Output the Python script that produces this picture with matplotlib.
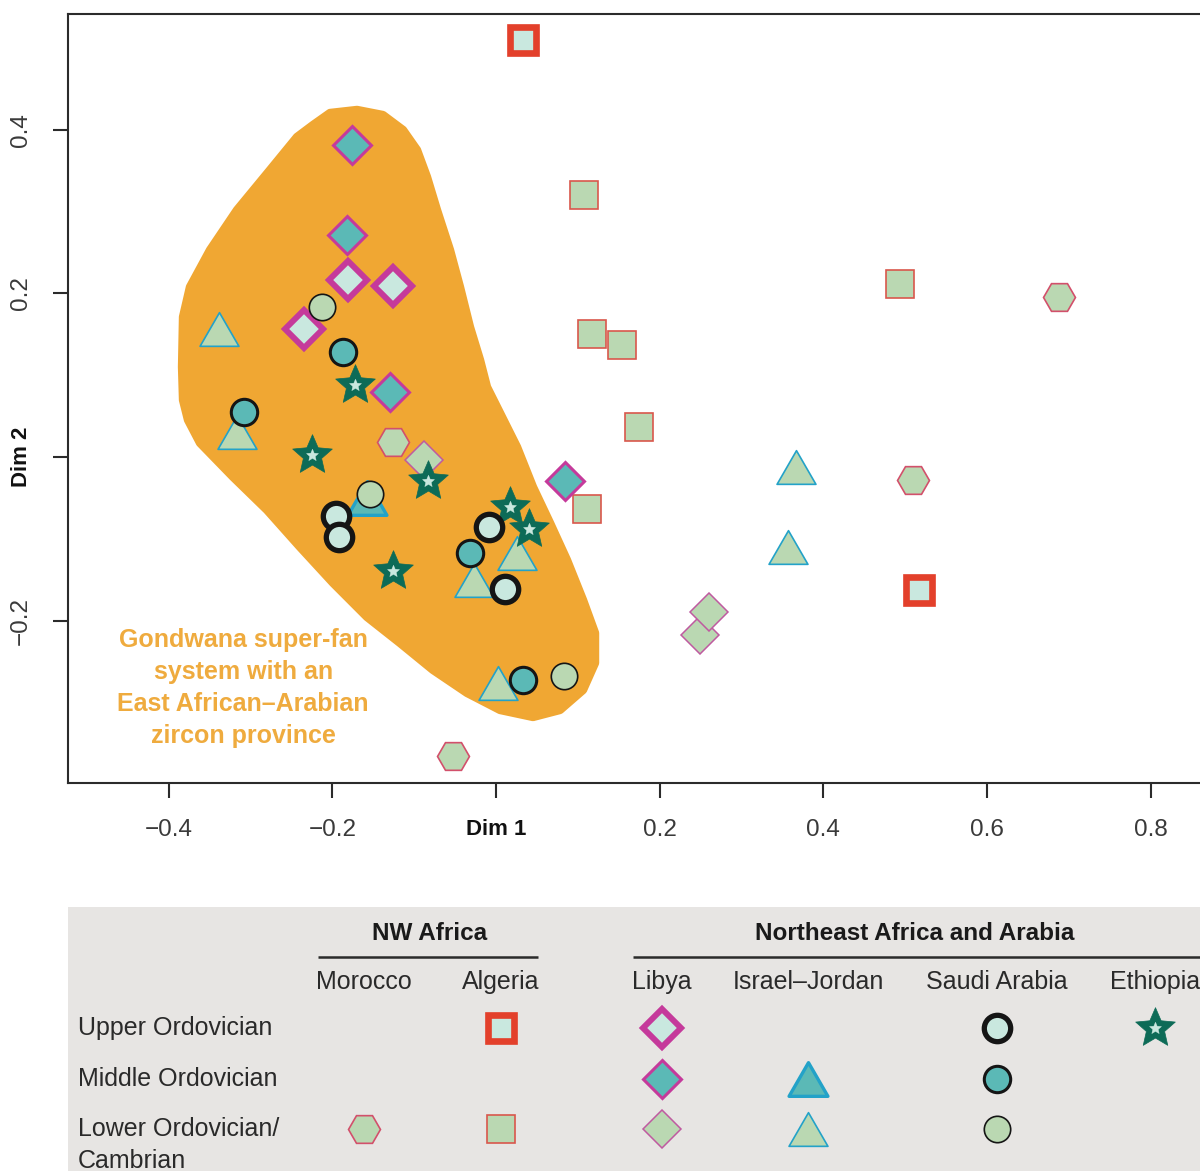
import matplotlib
matplotlib.use("Agg")
import matplotlib.pyplot as plt
from matplotlib.patches import Polygon, Rectangle
from matplotlib.path import Path
import numpy as np

plt.rcParams['font.family'] = ['Liberation Sans', 'DejaVu Sans']

# ---- MDS coordinates (Dim 1, Dim 2) per region / stratigraphic level ----
algeria_upper_x = [0.033, 0.517]
algeria_upper_y = [0.509, -0.1625]
algeria_lower_x = [0.1075, 0.4936, 0.1173, 0.154, 0.1747, 0.111]
algeria_lower_y = [0.320, 0.2114, 0.150, 0.137, 0.0367, -0.0635]
morocco_lower_x = [0.688, 0.509, -0.126, -0.0525]
morocco_lower_y = [0.1955, -0.028, 0.018, -0.365]
libya_upper_x = [-0.181, -0.126, -0.2346]
libya_upper_y = [0.216, 0.209, 0.156]
libya_middle_x = [-0.176, -0.182, -0.1295, 0.0843]
libya_middle_y = [0.381, 0.271, 0.079, -0.029]
libya_lower_x = [0.249, 0.260, -0.088]
libya_lower_y = [-0.2175, -0.189, -0.004]
israel_middle_x = [-0.158]
israel_middle_y = [-0.050]
israel_lower_x = [-0.338, -0.3165, 0.0257, -0.027, 0.0024, 0.367, 0.357]
israel_lower_y = [0.156, 0.031, -0.117, -0.150, -0.276, -0.012, -0.110]
saudi_upper_x = [-0.1955, -0.192, -0.0086, 0.011]
saudi_upper_y = [-0.072, -0.098, -0.0855, -0.161]
saudi_middle_x = [-0.308, -0.187, -0.032, 0.033]
saudi_middle_y = [0.055, 0.128, -0.117, -0.2725]
saudi_lower_x = [-0.2126, -0.154, 0.083]
saudi_lower_y = [0.183, -0.045, -0.2675]
ethiopia_upper_x = [-0.1723, -0.2248, -0.0831, -0.1258, 0.0171, 0.0403]
ethiopia_upper_y = [0.088, 0.0024, -0.0293, -0.139, -0.061, -0.088]

# Outline of the Gondwana super-fan field (Dim 1, Dim 2)
fan_outline_x = [-0.2431, -0.2236, -0.2028, -0.1698, -0.1381, -0.1136, -0.0965,
                 -0.0843, -0.0721, -0.0562, -0.0440, -0.0318, -0.0195, -0.0110,
                 0.0049, 0.0257, 0.0452, 0.0660, 0.0867, 0.1063, 0.1210, 0.1210,
                 0.1063, 0.0782, 0.0452, 0.0049, -0.0354, -0.0770, -0.1173,
                 -0.1576, -0.1991, -0.2395, -0.2798, -0.3213, -0.3616, -0.3763,
                 -0.3824, -0.3836, -0.3824, -0.3739, -0.3494, -0.3164, -0.2761]
fan_outline_y = [0.3910, 0.4056, 0.4203, 0.4240, 0.4178, 0.3995, 0.3751,
                 0.3421, 0.3018, 0.2529, 0.2077, 0.1588, 0.1185, 0.0855,
                 0.0538, 0.0122, -0.0367, -0.0806, -0.1258, -0.1747, -0.2150,
                 -0.2517, -0.2847, -0.3091, -0.3177, -0.3091, -0.2883, -0.2602,
                 -0.2273, -0.1955, -0.1539, -0.1100, -0.0648, -0.0244, 0.0171,
                 0.0452, 0.0696, 0.1100, 0.1711, 0.2077, 0.2529, 0.3018, 0.3507]

x_ticks = [-0.4, -0.2, 0.0, 0.2, 0.4, 0.6, 0.8]
x_tick_labels = ['\u22120.4', '\u22120.2', 'Dim 1', '0.2', '0.4', '0.6', '0.8']
y_ticks = [-0.2, 0.0, 0.2, 0.4]
y_tick_labels = ['\u22120.2', 'Dim 2', '0.2', '0.4']

fan_label = "Gondwana super-fan\nsystem with an\nEast African\u2013Arabian\nzircon province"

legend_groups = ['NW Africa', 'Northeast Africa and Arabia']
legend_countries = ['Morocco', 'Algeria', 'Libya', 'Israel\u2013Jordan', 'Saudi Arabia', 'Ethiopia']
legend_periods = ['Upper Ordovician', 'Middle Ordovician', 'Lower Ordovician/\nCambrian']

# ---- colours ----
ORANGE = '#f0a733'
ORANGE_TXT = '#efab3e'
RED = '#e3402b'
RED_THIN = '#d9574c'
HEX_EDGE = '#d2506b'
MAGENTA = '#c53a9b'
MAGENTA_THIN = '#bf5aa0'
BLUE = '#23a2c8'
BLACK = '#151515'
MINT = '#c9e8df'
TEAL = '#5bb9b6'
LGREEN = '#bad8b2'
STAR_GREEN = '#0d6b57'
LEG_BG = '#e7e5e3'
AX_COL = '#2b2b2b'

# ---- marker shapes ----
tri_path = Path([(-1, -0.866), (1, -0.866), (0, 0.866), (-1, -0.866)],
                [Path.MOVETO, Path.LINETO, Path.LINETO, Path.CLOSEPOLY])
ang = np.deg2rad(90 + 36 * np.arange(10))
rad = np.where(np.arange(10) % 2 == 0, 1.0, 0.46)
star_verts = list(zip(rad * np.cos(ang), rad * np.sin(ang)))
star_path = Path(star_verts + [star_verts[0]],
                 [Path.MOVETO] + [Path.LINETO] * 9 + [Path.CLOSEPOLY])

# style key -> marker kwargs
styles = {
    'algeria_upper': dict(marker='s', ms=19, mfc=MINT, mec=RED, mew=4.8),
    'algeria_lower': dict(marker='s', ms=20, mfc=LGREEN, mec=RED_THIN, mew=1.2),
    'morocco_lower': dict(marker='H', ms=23, mfc=LGREEN, mec=HEX_EDGE, mew=1.2),
    'libya_upper': dict(marker='D', ms=19, mfc=MINT, mec=MAGENTA, mew=4.3),
    'libya_middle': dict(marker='D', ms=19, mfc=TEAL, mec=MAGENTA, mew=2.2),
    'libya_lower': dict(marker='D', ms=19, mfc=LGREEN, mec=MAGENTA_THIN, mew=1.1),
    'israel_middle': dict(marker=tri_path, ms=28, mfc=TEAL, mec=BLUE, mew=2.4),
    'israel_lower': dict(marker=tri_path, ms=28, mfc=LGREEN, mec=BLUE, mew=1.2),
    'saudi_upper': dict(marker='o', ms=19, mfc=MINT, mec=BLACK, mew=3.8),
    'saudi_middle': dict(marker='o', ms=19, mfc=TEAL, mec=BLACK, mew=2.2),
    'saudi_lower': dict(marker='o', ms=19, mfc=LGREEN, mec=BLACK, mew=1.2),
    'ethiopia_upper': dict(marker=star_path, ms=30, mfc=STAR_GREEN, mec=STAR_GREEN, mew=0.5),
}
star_inner = dict(marker=star_path, ms=9, mfc=MINT, mec=MINT, mew=0.3)

series = [
    ('israel_lower', israel_lower_x, israel_lower_y),
    ('israel_middle', israel_middle_x, israel_middle_y),
    ('morocco_lower', morocco_lower_x, morocco_lower_y),
    ('algeria_lower', algeria_lower_x, algeria_lower_y),
    ('libya_lower', libya_lower_x, libya_lower_y),
    ('libya_middle', libya_middle_x, libya_middle_y),
    ('libya_upper', libya_upper_x, libya_upper_y),
    ('saudi_lower', saudi_lower_x, saudi_lower_y),
    ('saudi_middle', saudi_middle_x, saudi_middle_y),
    ('ethiopia_upper', ethiopia_upper_x, ethiopia_upper_y),
    ('saudi_upper', saudi_upper_x, saudi_upper_y),
    ('algeria_upper', algeria_upper_x, algeria_upper_y),
]

W, H = 1200, 1171
fig = plt.figure(figsize=(W / 100, H / 100), dpi=100)
fig.patch.set_facecolor('white')

# ---------------- scatter panel ----------------
ax = fig.add_axes([68 / W, 1 - 783 / H, 1147 / W, 769 / H])
ax.set_xlim(-0.5229, 0.8784)
ax.set_ylim(-0.3983, 0.5412)

fan = Polygon(np.column_stack([fan_outline_x, fan_outline_y]), closed=True,
              facecolor=ORANGE, edgecolor=ORANGE, lw=6, joinstyle='round', zorder=1)
ax.add_patch(fan)
ax.text(-0.309, -0.2825, fan_label, ha='center', va='center', color=ORANGE_TXT,
        fontsize=18, fontweight='bold', linespacing=1.42, zorder=2)

z = 3
for key, xs, ys in series:
    ax.plot(xs, ys, linestyle='none', zorder=z, **styles[key])
    if key == 'ethiopia_upper':
        ax.plot(xs, ys, linestyle='none', zorder=z + 0.5, **star_inner)
    z += 1

for sp in ax.spines.values():
    sp.set_linewidth(1.5)
    sp.set_color(AX_COL)

ax.set_xticks(x_ticks)
ax.set_xticklabels(x_tick_labels)
ax.set_yticks(y_ticks)
ax.set_yticklabels(y_tick_labels, rotation=90, va='center')
ax.tick_params(axis='both', direction='out', length=11, width=1.5, color=AX_COL,
               labelsize=17.5, labelcolor='#3a3a3a', pad=15)
for lab in ax.get_xticklabels() + ax.get_yticklabels():
    if lab.get_text().startswith('Dim'):
        lab.set_fontweight('bold')
        lab.set_fontsize(16)
        lab.set_color('#111111')

# ---------------- legend table ----------------
lg = fig.add_axes([0, 0, 1, 264 / H])
lg.set_xlim(0, W)
lg.set_ylim(H, 907)
lg.axis('off')
lg.add_patch(Rectangle((68, 907), W - 68, 264, facecolor=LEG_BG, edgecolor='none'))

col_x = [364, 501, 662, 808, 997, 1155]
row_y = [1028, 1079, 1129]
group_centers = [430, 915]
group_spans = [(318, 538), (633, 1205)]
group_y, rule_y, country_y = 934, 957, 982

for name, cx, (x0, x1) in zip(legend_groups, group_centers, group_spans):
    lg.text(cx, group_y, name, ha='center', va='center',
            fontsize=17.5, fontweight='bold', color='#1a1a1a')
    lg.plot([x0, x1], [rule_y, rule_y], color=AX_COL, lw=1.8, solid_capstyle='butt')

for name, cx in zip(legend_countries, col_x):
    lg.text(cx, country_y, name, ha='center', va='center', fontsize=18, color='#2a2a2a')

for name, ry in zip(legend_periods, row_y):
    for i, line in enumerate(name.split('\n')):
        lg.text(78, ry + 32 * i, line, ha='left', va='center', fontsize=18, color='#2a2a2a')

# (country column, period row) -> style key
legend_cells = [
    (1, 0, 'algeria_upper'),
    (2, 0, 'libya_upper'),
    (4, 0, 'saudi_upper'),
    (5, 0, 'ethiopia_upper'),
    (2, 1, 'libya_middle'),
    (3, 1, 'israel_middle'),
    (4, 1, 'saudi_middle'),
    (0, 2, 'morocco_lower'),
    (1, 2, 'algeria_lower'),
    (2, 2, 'libya_lower'),
    (3, 2, 'israel_lower'),
    (4, 2, 'saudi_lower'),
]
for ci, ri, key in legend_cells:
    lg.plot([col_x[ci]], [row_y[ri]], linestyle='none', **styles[key])
    if key == 'ethiopia_upper':
        lg.plot([col_x[ci]], [row_y[ri]], linestyle='none', **star_inner)

fig.savefig('out.png', dpi=100, facecolor='white')
